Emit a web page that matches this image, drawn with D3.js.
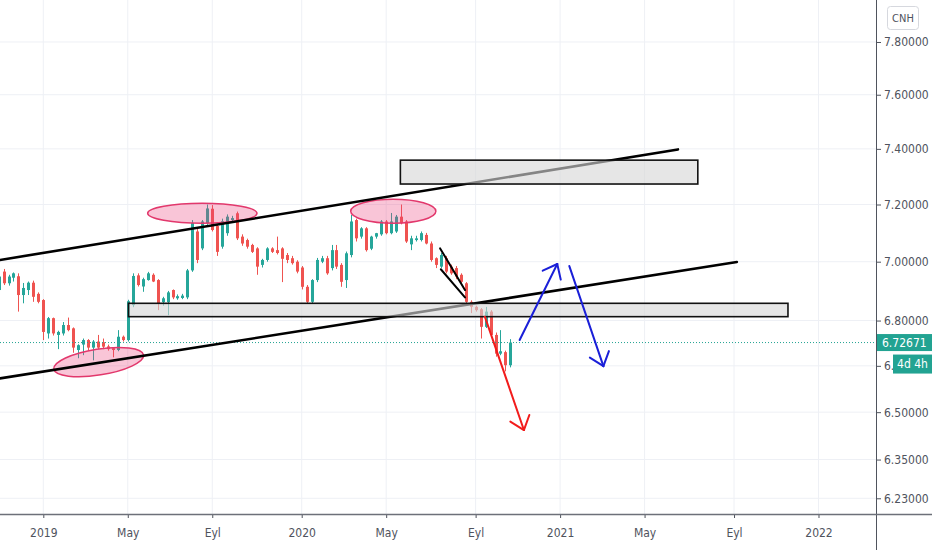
<!DOCTYPE html>
<html>
<head>
<meta charset="utf-8">
<script src="https://cdn.jsdelivr.net/npm/d3@7"></script>
<style>
  html, body { margin: 0; padding: 0; background: #fff; }
  svg text { font-family: "DejaVu Sans Condensed", "Liberation Sans Narrow", "DejaVu Sans", sans-serif; }
</style>
</head>
<body>
<div id="chart"></div>
<script>
// weekly USD/CNH candles, first bar week of 2018-11-05
const firstWeek = "2018-11-05";

const opens = [
  6.903, 6.966, 6.926, 6.945, 6.950, 6.886, 6.903, 6.928, 6.890, 6.869,
  6.757, 6.808, 6.752, 6.757, 6.785, 6.774, 6.702, 6.720, 6.735, 6.710,
  6.730, 6.728, 6.714, 6.708, 6.702, 6.746, 6.735, 6.852, 6.953, 6.915,
  6.937, 6.955, 6.937, 6.862, 6.862, 6.903, 6.875, 6.876, 6.878, 6.970,
  7.105, 7.046, 7.134, 7.185, 7.124, 7.052, 7.099, 7.145, 7.169, 7.087,
  7.075, 7.058, 7.046, 6.989, 7.006, 7.046, 7.040, 7.046, 7.023, 7.012,
  7.000, 6.980, 6.914, 6.863, 6.937, 7.000, 7.012, 6.978, 7.040, 6.989,
  6.937, 7.023, 7.145, 7.087, 7.116, 7.045, 7.087, 7.095, 7.140, 7.099,
  7.105, 7.157, 7.140, 7.060, 7.075, 7.075, 7.093, 7.063, 7.012, 6.983,
  7.012, 6.983, 6.978, 6.955, 6.926, 6.863, 6.846, 6.838, 6.779, 6.830,
  6.752, 6.690, 6.695, 6.652
];
const highs = [
  6.955, 6.975, 6.955, 6.963, 6.960, 6.927, 6.932, 6.935, 6.895, 6.872,
  6.812, 6.810, 6.766, 6.795, 6.810, 6.777, 6.721, 6.740, 6.738, 6.735,
  6.752, 6.740, 6.720, 6.712, 6.768, 6.750, 6.870, 6.960, 6.960, 6.945,
  6.965, 6.960, 6.940, 6.880, 6.900, 6.905, 6.888, 6.890, 6.975, 7.145,
  7.115, 7.145, 7.200, 7.198, 7.130, 7.150, 7.165, 7.160, 7.175, 7.095,
  7.080, 7.062, 7.050, 7.010, 7.050, 7.050, 7.087, 7.050, 7.030, 7.020,
  7.005, 6.985, 6.920, 6.940, 7.013, 7.020, 7.020, 7.058, 7.058, 6.995,
  7.035, 7.163, 7.150, 7.120, 7.120, 7.090, 7.100, 7.145, 7.145, 7.170,
  7.163, 7.200, 7.145, 7.090, 7.090, 7.105, 7.100, 7.070, 7.015, 7.030,
  7.020, 6.990, 6.985, 6.960, 6.930, 6.868, 6.850, 6.842, 6.846, 6.835,
  6.760, 6.768, 6.700, 6.738
];
const lows = [
  6.896, 6.920, 6.918, 6.932, 6.830, 6.858, 6.886, 6.863, 6.858, 6.735,
  6.740, 6.750, 6.705, 6.750, 6.764, 6.693, 6.675, 6.685, 6.700, 6.668,
  6.705, 6.705, 6.700, 6.678, 6.698, 6.730, 6.730, 6.845, 6.915, 6.897,
  6.935, 6.930, 6.835, 6.850, 6.818, 6.872, 6.870, 6.872, 6.872, 6.965,
  6.995, 7.040, 7.128, 7.105, 7.020, 7.045, 7.090, 7.135, 7.075, 7.055,
  7.045, 7.030, 6.955, 6.980, 7.000, 7.030, 7.025, 6.930, 6.995, 6.990,
  6.960, 6.905, 6.857, 6.857, 6.930, 6.995, 6.955, 6.970, 6.975, 6.914,
  6.910, 7.015, 7.070, 7.080, 7.035, 7.040, 7.080, 7.090, 7.095, 7.095,
  7.100, 7.130, 7.065, 7.040, 7.070, 7.070, 7.060, 7.000, 6.978, 6.978,
  6.960, 6.955, 6.940, 6.925, 6.858, 6.825, 6.830, 6.740, 6.775, 6.745,
  6.680, 6.685, 6.632, 6.645
];
const closes = [
  6.949, 6.926, 6.949, 6.960, 6.886, 6.910, 6.928, 6.880, 6.863, 6.762,
  6.808, 6.757, 6.762, 6.785, 6.768, 6.710, 6.718, 6.735, 6.710, 6.730,
  6.710, 6.713, 6.705, 6.702, 6.746, 6.735, 6.865, 6.951, 6.920, 6.940,
  6.960, 6.932, 6.858, 6.875, 6.895, 6.878, 6.882, 6.884, 6.970, 7.135,
  7.006, 7.140, 7.186, 7.110, 7.034, 7.141, 7.157, 7.152, 7.081, 7.063,
  7.052, 7.034, 6.983, 7.006, 7.046, 7.034, 7.030, 7.010, 7.006, 6.995,
  6.966, 6.914, 6.863, 6.937, 7.006, 7.012, 6.960, 7.040, 6.983, 6.931,
  7.029, 7.140, 7.081, 7.116, 7.040, 7.087, 7.099, 7.140, 7.099, 7.140,
  7.157, 7.134, 7.070, 7.081, 7.081, 7.099, 7.063, 7.006, 6.989, 7.023,
  6.966, 6.960, 6.949, 6.931, 6.863, 6.846, 6.835, 6.779, 6.830, 6.752,
  6.690, 6.698, 6.652, 6.72671
];

const lastPrice = 6.72671;
const countdown = "4d 4h";
const symbolLabel = "CNH";

// visible time window and price window
const viewDates = ["2018-11-07", "2022-03-25"];
const viewPrices = [6.182, 7.963];

const xTickDates = ["2019-01-07", "2019-05-06", "2019-09-02", "2020-01-06", "2020-05-04",
                    "2020-09-07", "2021-01-04", "2021-05-03", "2021-09-06", "2022-01-03"];
const xTickLabels = ["2019", "May", "Eyl", "2020", "May", "Eyl", "2021", "May", "Eyl", "2022"];
const yTicks = [7.8, 7.6, 7.4, 7.2, 7.0, 6.8, 6.65, 6.5, 6.35, 6.23];

// drawings: [date1, price1, date2, price2]
const channelLines = [
  ["2018-11-07", 7.006, "2021-06-19", 7.398],
  ["2018-11-07", 6.609, "2021-09-10", 6.999]
];
const wedgeLines = [
  ["2020-07-19", 7.046, "2020-08-23", 6.903],
  ["2020-07-20", 6.974, "2020-08-23", 6.878]
];
// boxes: [startDate, endDate, lowPrice, highPrice]
const zones = [
  ["2019-05-07", "2021-11-21", 6.813, 6.858],
  ["2020-05-24", "2021-07-17", 7.273, 7.359]
];
// ellipses: [startDate, endDate, lowPrice, highPrice]
const ellipses = [
  ["2019-01-21", "2019-05-29", 6.620, 6.705],
  ["2019-06-03", "2019-11-04", 7.134, 7.204],
  ["2020-03-15", "2020-07-13", 7.134, 7.219]
];
// arrows: [date1, price1, date2, price2]
const blueArrows = [
  ["2020-11-08", 6.735, "2020-12-31", 6.992],
  ["2021-01-17", 6.985, "2021-03-06", 6.649]
];
const redArrows = [
  ["2020-09-20", 6.813, "2020-11-14", 6.443]
];

const W = 932, H = 550, plotW = 876, plotH = 514;
const up = "#26a69a", down = "#ef5350", teal = "#22a392";
const ellipseTilt = [-9, 0, 0];
const countdownX = 893;

const parse = d3.utcParse("%Y-%m-%d");
const start = parse(firstWeek);
const weeks = d3.utcMonday.range(start, d3.utcMonday.offset(start, opens.length));
const candles = weeks.map((d, i) => ({ date: d, o: opens[i], h: highs[i], l: lows[i], c: closes[i] }));

const x = d3.scaleUtc().domain(viewDates.map(parse)).range([0, plotW]);
const y = d3.scaleLog().domain(viewPrices).range([plotH, 0]);

const svg = d3.select("#chart").append("svg")
    .attr("width", W)
    .attr("height", H);

const defs = svg.append("defs");
defs.append("clipPath").attr("id", "plot")
    .append("rect").attr("width", plotW).attr("height", plotH);
// the countdown badge hides most of the tick label next to it
defs.append("clipPath").attr("id", "underBadge")
    .append("rect").attr("x", -2).attr("y", -12).attr("width", countdownX - plotW + 2).attr("height", 24);

// grid
const grid = svg.append("g");
grid.selectAll(".hg").data(yTicks).join("line")
    .attr("x1", 0).attr("x2", plotW)
    .attr("y1", d => y(d)).attr("y2", d => y(d))
    .attr("stroke", "#eef0f5");
grid.selectAll(".vg").data(xTickDates).join("line")
    .attr("x1", d => x(parse(d))).attr("x2", d => x(parse(d)))
    .attr("y1", 0).attr("y2", plotH)
    .attr("stroke", "#eef0f5");

const plot = svg.append("g").attr("clip-path", "url(#plot)");

// candles
const cg = plot.append("g");
cg.selectAll(".wick").data(candles).join("line")
    .attr("x1", d => Math.round(x(d.date)) + 0.5).attr("x2", d => Math.round(x(d.date)) + 0.5)
    .attr("y1", d => y(d.h)).attr("y2", d => y(d.l))
    .attr("stroke", d => d.c >= d.o ? up : down)
    .attr("stroke-width", 1);
cg.selectAll(".body").data(candles).join("rect")
    .attr("x", d => Math.round(x(d.date)) - 1)
    .attr("width", 3)
    .attr("y", d => y(Math.max(d.o, d.c)))
    .attr("height", d => Math.max(1, Math.abs(y(d.o) - y(d.c))))
    .attr("fill", d => d.c >= d.o ? up : down);

// last price line
plot.append("line")
    .attr("x1", 0).attr("x2", plotW)
    .attr("y1", y(lastPrice)).attr("y2", y(lastPrice))
    .attr("stroke", teal)
    .attr("stroke-width", 1)
    .attr("stroke-dasharray", "1,2");

// ellipses
plot.selectAll(".ell").data(ellipses).join("ellipse")
    .attr("cx", d => (x(parse(d[0])) + x(parse(d[1]))) / 2)
    .attr("cy", d => (y(d[2]) + y(d[3])) / 2)
    .attr("rx", d => (x(parse(d[1])) - x(parse(d[0]))) / 2)
    .attr("ry", d => (y(d[2]) - y(d[3])) / 2)
    .attr("transform", (d, i) => {
        const cx = (x(parse(d[0])) + x(parse(d[1]))) / 2;
        const cy = (y(d[2]) + y(d[3])) / 2;
        return `rotate(${ellipseTilt[i]},${cx},${cy})`;
    })
    .attr("fill", "rgba(236, 64, 122, 0.3)")
    .attr("stroke", "#e2386c")
    .attr("stroke-width", 1.5);

// channel and wedge lines
const seg = (g, data, color, w) => g.selectAll(null).data(data).join("line")
    .attr("x1", d => x(parse(d[0]))).attr("y1", d => y(d[1]))
    .attr("x2", d => x(parse(d[2]))).attr("y2", d => y(d[3]))
    .attr("stroke", color)
    .attr("stroke-width", w)
    .attr("stroke-linecap", "round");

seg(plot.append("g"), channelLines, "#000", 2.6);
seg(plot.append("g"), wedgeLines, "#000", 2);

// zones
plot.selectAll(".zone").data(zones).join("rect")
    .attr("x", d => x(parse(d[0])))
    .attr("width", d => x(parse(d[1])) - x(parse(d[0])))
    .attr("y", d => y(d[3]))
    .attr("height", d => y(d[2]) - y(d[3]))
    .attr("fill", "rgba(215, 215, 215, 0.62)")
    .attr("stroke", "#111")
    .attr("stroke-width", 1.6);

// arrows
function drawArrows(data, color) {
    const g = plot.append("g");
    seg(g, data, color, 2);
    data.forEach(d => {
        const x1 = x(parse(d[0])), y1 = y(d[1]), x2 = x(parse(d[2])), y2 = y(d[3]);
        const back = Math.atan2(y1 - y2, x1 - x2);
        [-0.68, 0.68].forEach(a => {
            g.append("line")
                .attr("x1", x2).attr("y1", y2)
                .attr("x2", x2 + 16 * Math.cos(back + a))
                .attr("y2", y2 + 16 * Math.sin(back + a))
                .attr("stroke", color)
                .attr("stroke-width", 2)
                .attr("stroke-linecap", "round");
        });
    });
}
drawArrows(blueArrows, "#1a1fd8");
drawArrows(redArrows, "#f21c1c");

// axes
const axisColor = "#4f535d";
const yAxis = svg.append("g")
    .attr("transform", `translate(${plotW},0)`)
    .call(d3.axisRight(y).tickValues(yTicks).tickFormat(d3.format(".5f")).tickSize(5).tickPadding(3));
yAxis.select(".domain").remove();
yAxis.selectAll(".tick line").attr("stroke", axisColor);
yAxis.selectAll(".tick text").attr("fill", axisColor).style("font-size", "12px");
yAxis.selectAll(".tick").filter(d => Math.abs(y(d) - y(lastPrice)) < 30 && d < lastPrice)
    .select("text").attr("clip-path", "url(#underBadge)");

const xAxis = svg.append("g")
    .attr("transform", `translate(0,${plotH})`)
    .call(d3.axisBottom(x).tickValues(xTickDates.map(parse))
        .tickFormat((d, i) => xTickLabels[i]).tickSize(4).tickPadding(10));
xAxis.select(".domain").remove();
xAxis.selectAll(".tick line").attr("stroke", axisColor);
xAxis.selectAll(".tick text").attr("fill", axisColor).style("font-size", "12px");

svg.append("line")
    .attr("x1", plotW + 0.5).attr("x2", plotW + 0.5)
    .attr("y1", 0).attr("y2", H)
    .attr("stroke", axisColor);
svg.append("line")
    .attr("x1", 0).attr("x2", W)
    .attr("y1", plotH + 0.5).attr("y2", plotH + 0.5)
    .attr("stroke", "#6d7079")
    .attr("stroke-width", 1.6);

// last price label + countdown
const py = y(lastPrice);
svg.append("rect")
    .attr("x", plotW + 1).attr("y", py - 8.5)
    .attr("width", W - plotW - 1).attr("height", 17)
    .attr("fill", teal);
svg.append("text")
    .attr("x", plotW + 6).attr("y", py)
    .attr("dy", "0.36em")
    .attr("fill", "#fff")
    .style("font-size", "12px")
    .text(d3.format(".5f")(lastPrice));
svg.append("rect")
    .attr("x", countdownX).attr("y", py + 12)
    .attr("width", W - countdownX).attr("height", 19)
    .attr("fill", teal);
svg.append("text")
    .attr("x", 912.5).attr("y", py + 21.5)
    .attr("dy", "0.36em")
    .attr("text-anchor", "middle")
    .attr("fill", "#fff")
    .style("font-size", "12px")
    .text(countdown);

// symbol badge
svg.append("rect")
    .attr("x", 887.5).attr("y", 6.5)
    .attr("width", 31).attr("height", 23).attr("rx", 3)
    .attr("fill", "#fff")
    .attr("stroke", "#d6d8de");
svg.append("text")
    .attr("x", 903).attr("y", 18)
    .attr("dy", "0.36em")
    .attr("text-anchor", "middle")
    .attr("fill", axisColor)
    .style("font-size", "11px")
    .text(symbolLabel);
</script>
</body>
</html>
